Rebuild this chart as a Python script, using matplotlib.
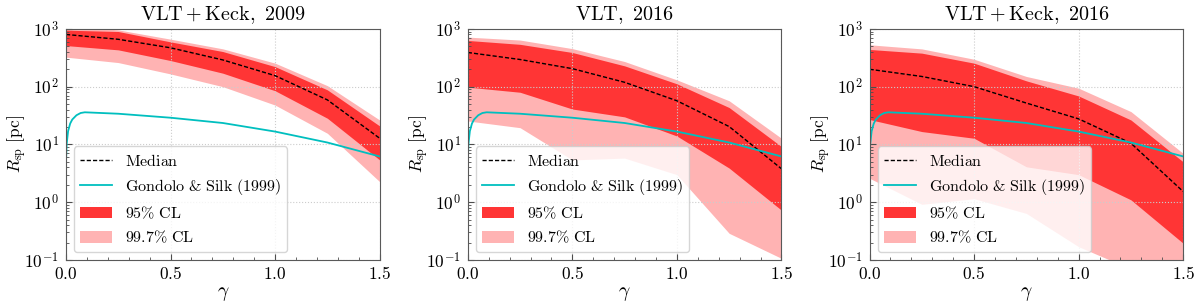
import numpy as np
import matplotlib
matplotlib.use("Agg")
import matplotlib.pyplot as plt
from matplotlib.ticker import MultipleLocator, FuncFormatter, LogLocator

plt.rcParams['mathtext.fontset'] = 'cm'

# gamma grid of the scan
gamma = [0.0, 0.25, 0.5, 0.75, 1.0, 1.25, 1.5]

# VLT + Keck, 2009
med_a = [800, 660, 470, 290, 155, 59, 12.8]
lo95_a = [514, 433, 283, 171, 85, 28.4, 5.4]
hi95_a = [950, 900, 595, 405, 222, 88, 20.9]
lo997_a = [324, 261, 166, 100, 48, 15.6, 2.27]
hi997_a = [1100, 960, 663, 451, 255, 104, 26.5]

# VLT, 2016
med_b = [390, 295, 205, 119, 57, 20.4, 3.8]
lo95_b = [98, 80, 41, 30, 14, 3.9, 0.73]
hi95_b = [630, 540, 390, 229, 112, 43.5, 9.2]
lo997_b = [25.5, 19.5, 5.4, 5.8, 3.0, 0.29, 0.107]
hi997_b = [720, 640, 455, 272, 131, 57, 12.8]

# VLT + Keck, 2016
med_c = [200, 150, 100, 52, 27.7, 10.5, 1.53]
lo95_c = [27, 16.7, 12.8, 4.1, 3.0, 1.1, 0.195]
hi95_c = [440, 380, 255, 126, 69, 26.5, 5.0]
lo997_c = [2.6, 0.92, 1.15, 0.64, 0.17, 0.07, 0.02]
hi997_c = [530, 450, 298, 150, 94, 37, 7.0]

# Gondolo & Silk (1999) spike radius
gs_gamma = [0, 0.003, 0.01, 0.02, 0.03, 0.05, 0.07, 0.09, 0.25, 0.5, 0.75, 1.0, 1.25, 1.5]
gs_r = [5, 10, 17, 23, 27, 32, 35, 36, 34, 29, 23.5, 16.7, 10.8, 6.2]

titles = [r'$\mathrm{VLT + Keck,\ 2009}$', r'$\mathrm{VLT,\ 2016}$',
          r'$\mathrm{VLT + Keck,\ 2016}$']
panels = [(med_a, lo95_a, hi95_a, lo997_a, hi997_a),
          (med_b, lo95_b, hi95_b, lo997_b, hi997_b),
          (med_c, lo95_c, hi95_c, lo997_c, hi997_c)]

fig, axes = plt.subplots(1, 3, figsize=(12, 3.07), dpi=100)
fig.subplots_adjust(left=0.055, right=0.986, bottom=0.153, top=0.906, wspace=0.281)

for ax, title, (med, lo95, hi95, lo997, hi997) in zip(axes, titles, panels):
    ax.fill_between(gamma, lo997, hi997, color='#ffb3b3', lw=0, label=r'$99.7\%\ \mathrm{CL}$')
    ax.fill_between(gamma, lo95, hi95, color='#ff3535', lw=0, label=r'$95\%\ \mathrm{CL}$')
    ax.plot(gamma, med, 'k--', lw=1.0, dashes=(3, 1.5), label=r'$\mathrm{Median}$')
    ax.plot(gs_gamma, gs_r, color='c', lw=1.3, label=r'$\mathrm{Gondolo}\ &\ \mathrm{Silk}\ (1999)$')

    ax.set_yscale('log')
    ax.set_xlim(0, 1.5)
    ax.set_ylim(1e-1, 1e3)
    ax.set_title(title, fontsize=14.5, pad=6)
    ax.set_xlabel(r'$\gamma$', fontsize=14, labelpad=1)
    ax.set_ylabel(r'$R_{\rm sp}\ [{\rm pc}]$', fontsize=12.5)
    ax.yaxis.set_label_coords(-0.118, 0.5)

    ax.xaxis.set_major_locator(MultipleLocator(0.5))
    ax.xaxis.set_minor_locator(MultipleLocator(0.1))
    ax.xaxis.set_major_formatter(FuncFormatter(lambda v, p: r'$%.1f$' % v))
    ax.yaxis.set_major_locator(LogLocator(base=10, numticks=10))
    ax.yaxis.set_minor_locator(LogLocator(base=10, subs=np.arange(2, 10), numticks=20))
    ax.yaxis.set_major_formatter(FuncFormatter(lambda v, p: r'$10^{%d}$' % round(np.log10(v))))
    ax.tick_params(which='both', direction='in', labelsize=12.5, color='0.3')
    ax.tick_params(which='major', length=4)
    ax.tick_params(which='minor', length=2)
    ax.tick_params(axis='y', pad=5)
    ax.grid(True, which='major', ls=':', color='0.8', lw=0.8)
    for s in ax.spines.values():
        s.set_color('0.35')

    h, l = ax.get_legend_handles_labels()
    order = [2, 3, 1, 0]
    ax.legend([h[i] for i in order], [l[i] for i in order], loc='lower left',
              fontsize=11.5, framealpha=0.8, borderaxespad=0.5)

plt.savefig('out.png')
